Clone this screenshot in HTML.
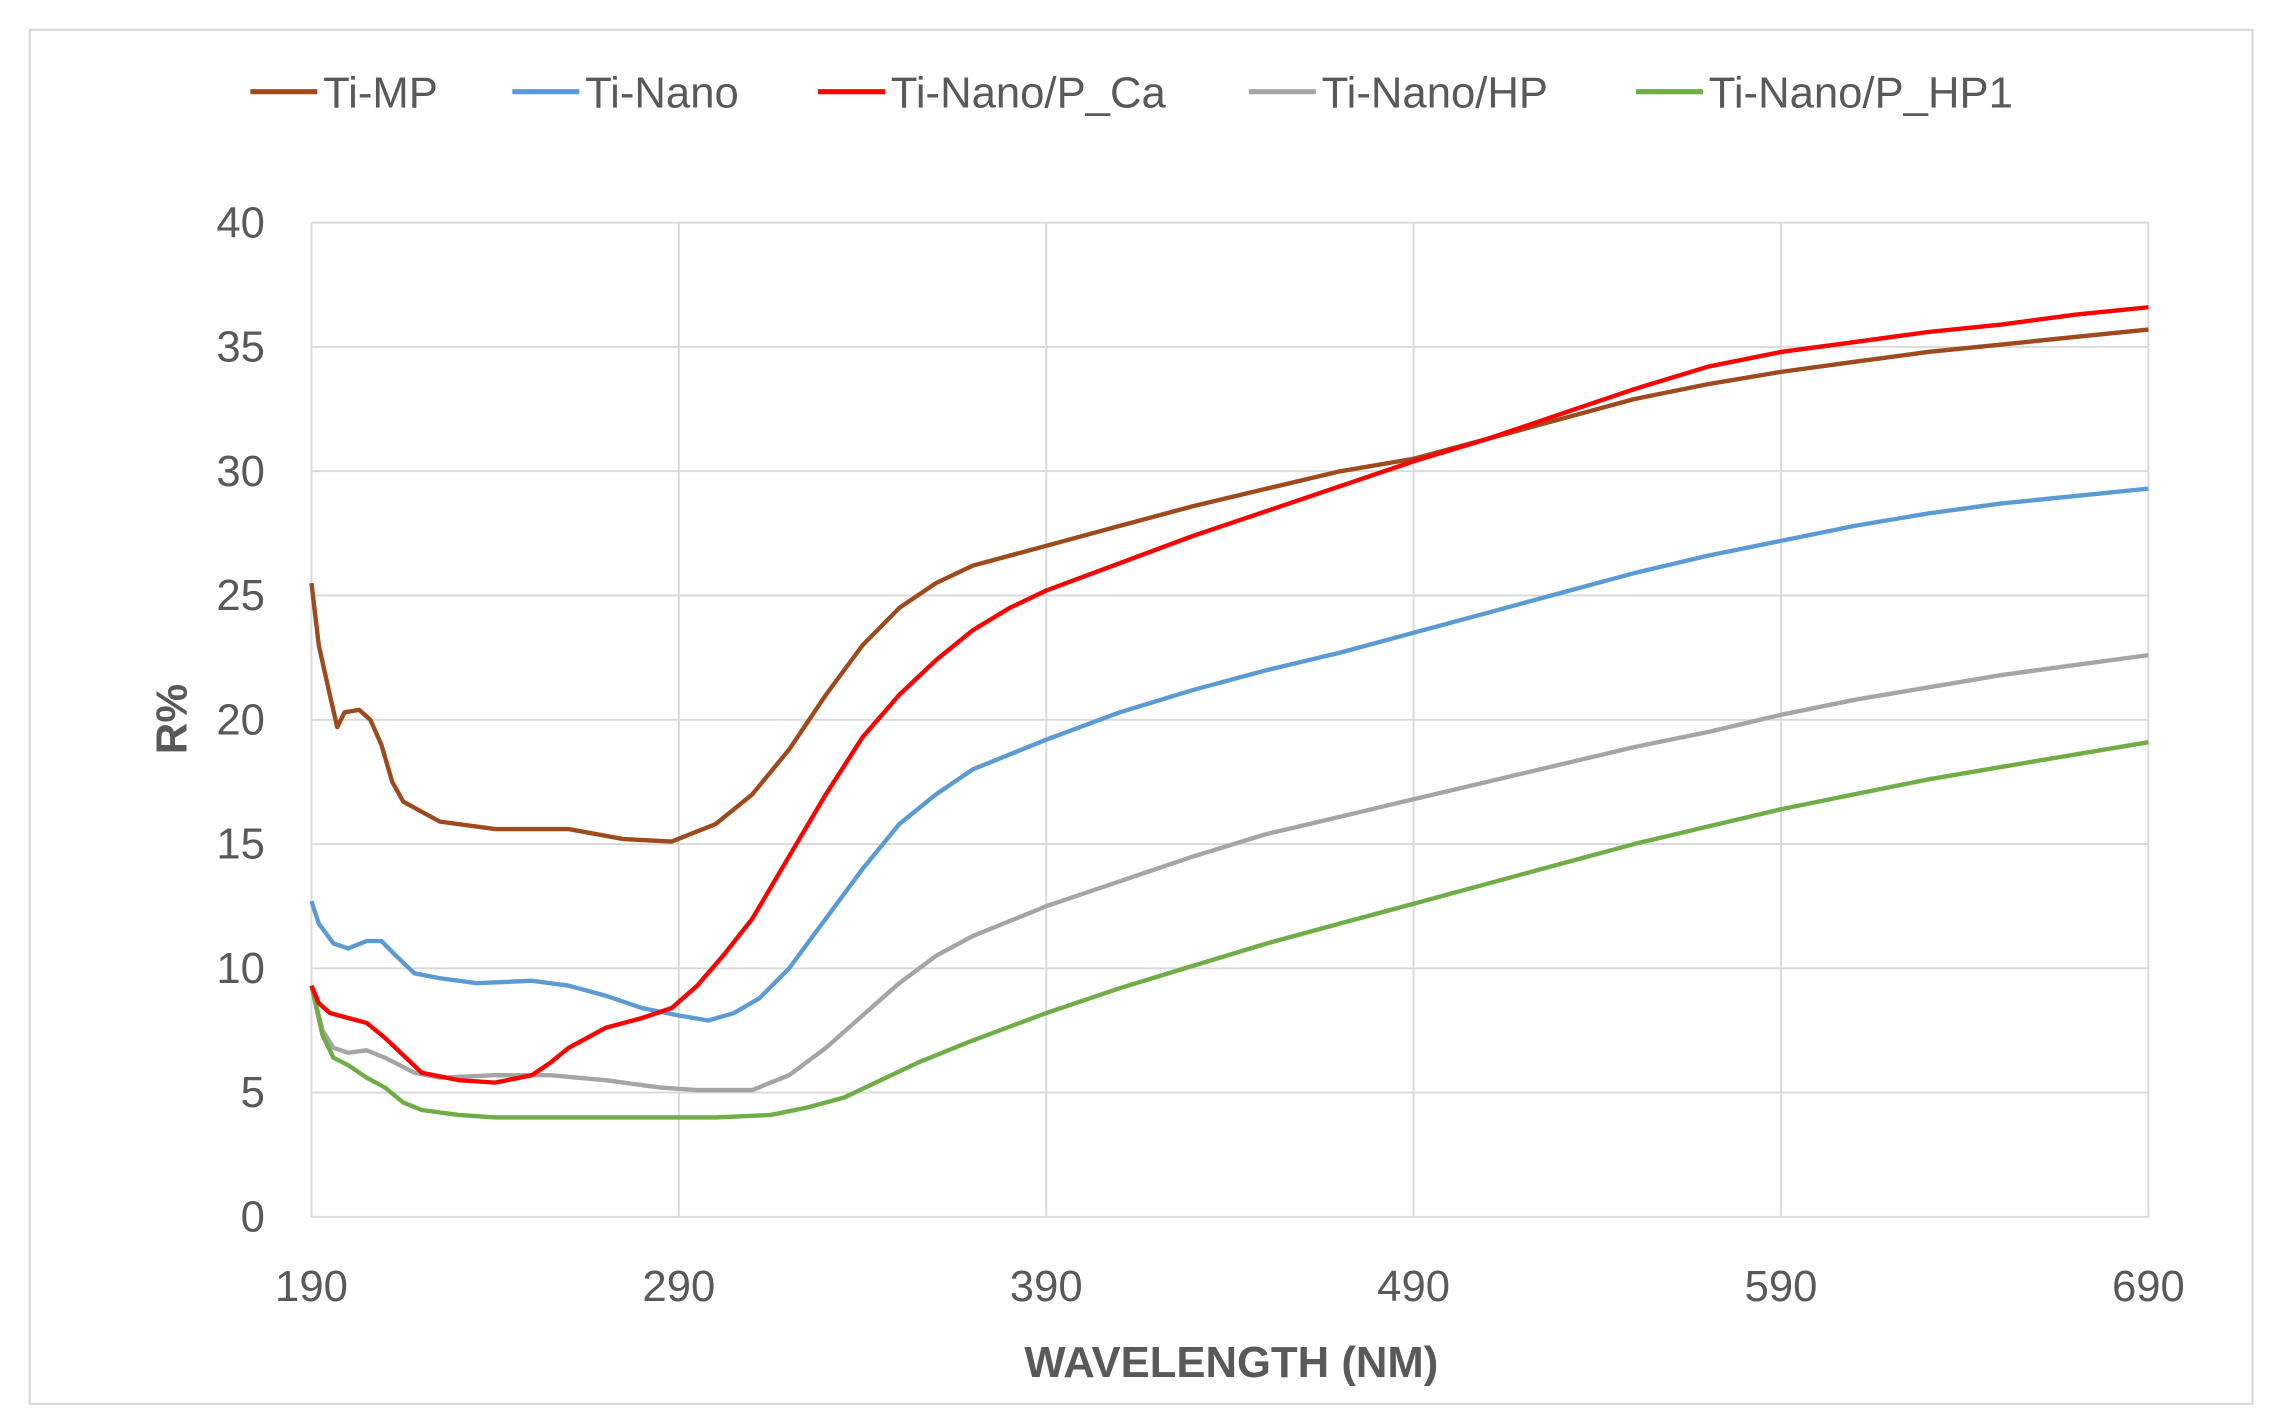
<!DOCTYPE html>
<html><head><meta charset="utf-8"><style>
html,body{margin:0;padding:0;background:#fff;}
svg{display:block;}
text{font-family:"Liberation Sans",sans-serif;fill:#595959;}
</style></head><body>
<svg id="s" width="2275" height="1427" viewBox="0 0 1563 980.4" xmlns="http://www.w3.org/2000/svg">
<rect x="0" y="0" width="1563" height="980.4" fill="#fff"/>
<rect x="20.5" y="20.5" width="1527" height="944" fill="none" stroke="#d9d9d9" stroke-width="1.5"/>
<g id="grid" stroke="#d9d9d9" stroke-width="1.3"></g>
<g id="lab" font-size="30"></g>
<g id="series" fill="none" stroke-width="3" stroke-linejoin="round"></g>
<text x="846" y="946" font-size="30" font-weight="bold" text-anchor="middle">WAVELENGTH (NM)</text>
<text transform="translate(128,494) rotate(-90)" font-size="30" font-weight="bold" text-anchor="middle">R%</text>
<g font-size="30">
<line x1="172" y1="63" x2="218" y2="63" stroke="#9e4a1c" stroke-width="3.5"/><text x="222" y="74">Ti-MP</text>
<line x1="352" y1="63" x2="398" y2="63" stroke="#5b9bd5" stroke-width="3.5"/><text x="402" y="74">Ti-Nano</text>
<line x1="562" y1="63" x2="608" y2="63" stroke="#ff0000" stroke-width="3.5"/><text x="612" y="74">Ti-Nano/P_Ca</text>
<line x1="858" y1="63" x2="904" y2="63" stroke="#a5a5a5" stroke-width="3.5"/><text x="908" y="74">Ti-Nano/HP</text>
<line x1="1124" y1="63" x2="1170" y2="63" stroke="#70ad47" stroke-width="3.5"/><text x="1174" y="74">Ti-Nano/P_HP1</text>
</g>
</svg>
<script>
var NS="http://www.w3.org/2000/svg";
function X(w){return 214+(w-190)*(1476-214)/500;}
function Y(r){return 836-r*(836-153)/40;}
function el(t,a,p,txt){var e=document.createElementNS(NS,t);for(var k in a)e.setAttribute(k,a[k]);if(txt!=null)e.textContent=txt;p.appendChild(e);return e;}
var g=document.getElementById('grid'),l=document.getElementById('lab'),s=document.getElementById('series');
for(var r=0;r<=40;r+=5){el('line',{x1:214,x2:1476,y1:Y(r),y2:Y(r)},g);el('text',{x:182,y:Y(r)+10,'text-anchor':'end'},l,r);}
for(var w=190;w<=690;w+=100){el('line',{x1:X(w),x2:X(w),y1:153,y2:836},g);el('text',{x:X(w),y:894,'text-anchor':'middle'},l,w);}
var D=[
["#a5a5a5",[190,9.3,193,7.5,196,6.8,200,6.6,205,6.7,210,6.4,218,5.8,225,5.6,240,5.7,255,5.7,270,5.5,285,5.2,295,5.1,310,5.1,320,5.7,330,6.8,340,8.1,350,9.4,360,10.5,370,11.3,390,12.5,410,13.5,430,14.5,450,15.4,470,16.1,490,16.8,510,17.5,530,18.2,550,18.9,570,19.5,590,20.2,610,20.8,630,21.3,650,21.8,670,22.2,690,22.6]],
["#70ad47",[190,9.3,193,7.3,196,6.4,200,6.1,205,5.6,210,5.2,215,4.6,220,4.3,230,4.1,240,4,260,4,280,4,300,4,315,4.1,325,4.4,335,4.8,345,5.5,355,6.2,370,7.1,390,8.2,410,9.2,430,10.1,450,11,470,11.8,490,12.6,510,13.4,530,14.2,550,15,570,15.7,590,16.4,610,17,630,17.6,650,18.1,670,18.6,690,19.1]],
["#5b9bd5",[190,12.7,192,11.8,196,11,200,10.8,205,11.1,209,11.1,213,10.5,218,9.8,225,9.6,235,9.4,250,9.5,260,9.3,270,8.9,280,8.4,290,8.1,298,7.9,305,8.2,312,8.8,320,10,330,12,340,14,350,15.8,360,17,370,18,390,19.2,410,20.3,430,21.2,450,22,470,22.7,490,23.5,510,24.3,530,25.1,550,25.9,570,26.6,590,27.2,610,27.8,630,28.3,650,28.7,670,29,690,29.3]],
["#9e4a1c",[190,25.5,192,23,195,21,197,19.7,199,20.3,203,20.4,206,20,209,19,212,17.5,215,16.7,220,16.3,225,15.9,240,15.6,260,15.6,275,15.2,288,15.1,300,15.8,310,17,320,18.8,330,21,340,23,350,24.5,360,25.5,370,26.2,390,27,410,27.8,430,28.6,450,29.3,470,30,490,30.5,510,31.3,530,32.1,550,32.9,570,33.5,590,34,610,34.4,630,34.8,650,35.1,670,35.4,690,35.7]],
["#ff0000",[190,9.3,192,8.6,195,8.2,200,8,205,7.8,210,7.2,215,6.5,220,5.8,230,5.5,240,5.4,250,5.7,255,6.2,260,6.8,265,7.2,270,7.6,280,8,288,8.4,295,9.3,302,10.5,310,12,320,14.5,330,17,340,19.3,350,21,360,22.4,370,23.6,380,24.5,390,25.2,410,26.3,430,27.4,450,28.4,470,29.4,490,30.4,510,31.3,530,32.3,550,33.3,570,34.2,590,34.8,610,35.2,630,35.6,650,35.9,670,36.3,690,36.6]]
];
D.forEach(function(d){var p=d[1],str="";for(var i=0;i<p.length;i+=2)str+=(i?"L":"M")+X(p[i]).toFixed(1)+","+Y(p[i+1]).toFixed(1);el('path',{d:str,stroke:d[0]},s);});
</script>
</body></html>
